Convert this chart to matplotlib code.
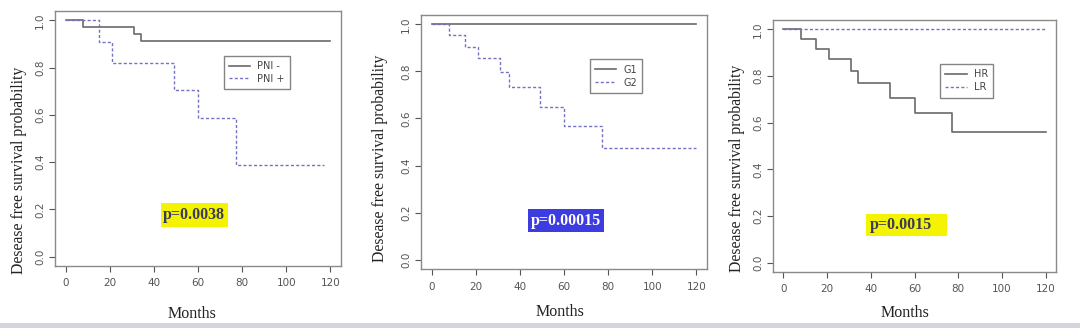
import matplotlib
matplotlib.use("Agg")
import matplotlib.pyplot as plt
from matplotlib.patches import Rectangle

# panel 1: perineural invasion
pni_neg_t = [0, 8, 31, 34, 120]
pni_neg_s = [1.0, 0.974, 0.943, 0.912, 0.912]
pni_pos_t = [0, 15, 21, 49, 60, 77, 117]
pni_pos_s = [1.0, 0.91, 0.82, 0.704, 0.586, 0.389, 0.389]

# panel 2: grade
g1_t = [0, 120]
g1_s = [1.0, 1.0]
g2_t = [0, 8, 15, 21, 31, 35, 49, 60, 77, 120]
g2_s = [1.0, 0.956, 0.906, 0.857, 0.796, 0.732, 0.65, 0.569, 0.474, 0.474]

# panel 3: risk
hr_t = [0, 8, 15, 21, 31, 34, 49, 60, 77, 120]
hr_s = [1.0, 0.957, 0.917, 0.874, 0.821, 0.771, 0.705, 0.641, 0.561, 0.561]
lr_t = [0, 120]
lr_s = [1.0, 1.0]

p_values = ["p=0.0038", "p=0.00015", "p=0.0015"]
legend_labels = [["PNI -", "PNI +"], ["G1", "G2"], ["HR", "LR"]]

W, H = 1080, 328
fig = plt.figure(figsize=(W / 100, H / 100), dpi=100)
fig.patch.set_facecolor("white")

# light band at the bottom of the screenshot
fig.patches.append(Rectangle((0, 0), 1, 5 / H, transform=fig.transFigure,
                             facecolor="#d3d4de", edgecolor="none"))

# axes boxes in pixels: left, right, top, bottom
boxes = [(55, 341, 11, 266), (421, 707, 15, 269), (773, 1056, 20, 272)]
# label positions in pixels: xlabel (x, y), ylabel (x, y)
xlab_pos = [(192, 314), (560, 312), (905, 313)]
ylab_pos = [(19, 170), (380, 158), (737, 168)]
curves = [((pni_neg_t, pni_neg_s), (pni_pos_t, pni_pos_s)),
          ((g1_t, g1_s), (g2_t, g2_s)),
          ((hr_t, hr_s), (lr_t, lr_s))]

# p box: x0, y0, width, height (data), text x, box colour, text colour
pboxes = [(43.1, 0.125, 30.5, 0.102, 58.3, "#f4f400", "#3a3a5c"),
          (43.8, 0.119, 34.2, 0.094, 60.9, "#3c3ce0", "white"),
          (37.8, 0.113, 37.1, 0.094, 53.6, "#f4f400", "#3a3a5c")]

solid_col = "#6a6a6a"
dash_col = "#7272c4"
frame_col = "#8a8a8a"

for i, (l, r, t, b) in enumerate(boxes):
    ax = fig.add_axes([l / W, 1 - b / H, (r - l) / W, (b - t) / H])
    (st, ss), (dt, ds) = curves[i]
    ax.step(st, ss, where="post", color=solid_col, lw=1.2, label=legend_labels[i][0])
    ax.step(dt, ds, where="post", color=dash_col, lw=1.0, dashes=(2.2, 1.6),
            label=legend_labels[i][1])
    ax.set_xlim(-4.8, 124.8)
    ax.set_ylim(-0.04, 1.04)
    ax.set_xticks([0, 20, 40, 60, 80, 100, 120])
    ax.set_yticks([0.0, 0.2, 0.4, 0.6, 0.8, 1.0])
    ax.set_yticklabels(["0.0", "0.2", "0.4", "0.6", "0.8", "1.0"], rotation=90, va="center")
    ax.tick_params(colors="#555555", labelsize=7.5, length=4, width=0.8, pad=3)
    ax.tick_params(axis="x", pad=5)
    for s in ax.spines.values():
        s.set_color(frame_col)
        s.set_linewidth(1.0)

    fig.text(xlab_pos[i][0] / W, 1 - xlab_pos[i][1] / H, "Months", family="Liberation Serif",
             fontsize=11.5, color="#222222", ha="center", va="center")
    fig.text(ylab_pos[i][0] / W, 1 - ylab_pos[i][1] / H, "Desease free survival probability",
             family="Liberation Serif", fontsize=11.3, color="#222222",
             ha="center", va="center", rotation=90)

    leg = ax.legend(loc="upper left", bbox_to_anchor=(0.59, 0.825), borderaxespad=0,
                    fancybox=False, fontsize=7, handlelength=2.2, labelspacing=0.3,
                    borderpad=0.55, handletextpad=0.7)
    leg.get_frame().set_edgecolor("#666666")
    leg.get_frame().set_linewidth(1.0)
    for txt in leg.get_texts():
        txt.set_color("#444444")

    x0, y0, bw, bh, tx, bc, tc = pboxes[i]
    ax.add_patch(Rectangle((x0, y0), bw, bh, facecolor=bc, edgecolor="none", zorder=3))
    ax.text(tx, y0 + bh / 2, p_values[i], family="Liberation Serif", fontweight="bold",
            fontsize=11.5, color=tc, ha="center", va="center", zorder=4)

fig.savefig("out.png", dpi=100)
